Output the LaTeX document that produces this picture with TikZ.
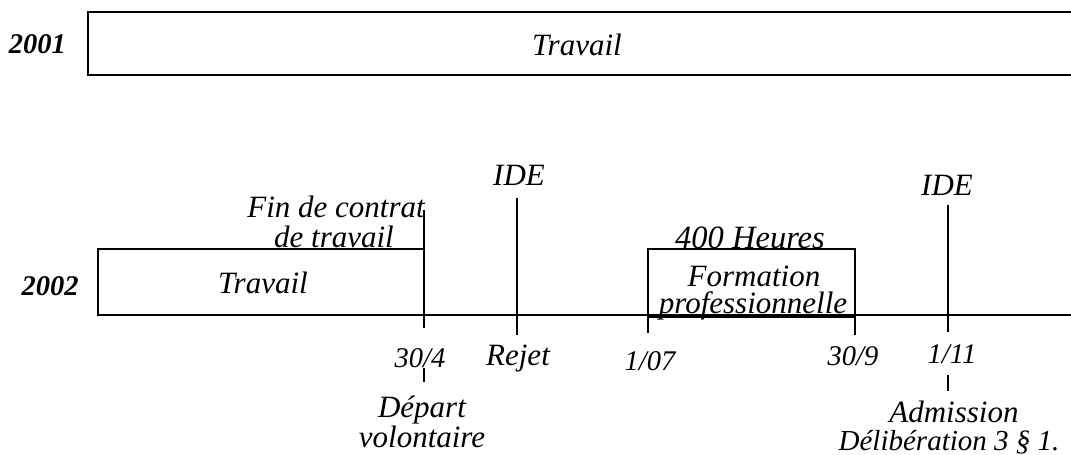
\documentclass[tikz,border=0pt]{standalone}
\usepackage{fontspec}
\setmainfont{Liberation Serif}
\begin{document}
\begin{tikzpicture}[x=1pt,y=-1pt,
  every node/.style={inner sep=0pt, outer sep=0pt, anchor=base,
    font=\fontsize{31}{33}\selectfont\itshape},
  num/.style={font=\fontsize{28.5}{30}\selectfont\itshape},
  year/.style={font=\fontsize{28.5}{30}\selectfont\bfseries\itshape},
  bar/.style={line width=1.6pt},
  mark line/.style={line width=1.6pt}]
\clip (0,0) rectangle (1071,455);
\fill[white] (0,0) rectangle (1071,455);

% 2001 row
\node[year] (y2001) at (37.5,53) {2001};
\draw[bar] (1080,12) -- (88,12) -- (88,75) -- (1080,75);
\node (work1) at (577,55) {Travail};

% 2002 row: timeline and boxes
\node[year] (y2002) at (50,295) {2002};
\coordinate (tl0) at (98,315);
\coordinate (tl1) at (1075,315);
\draw[bar] (tl0) -- (tl1);
\draw[bar] (98,249) rectangle (424,315);
\node (work2) at (263,293) {Travail};
\draw[bar] (648,249) rectangle (855,317);
\node[font=\fontsize{32.5}{34}\selectfont\itshape] (hours) at (750,248) {400 Heures};
\node (form1) at (754,286) {Formation};
\node (form2) at (753,313) {professionnelle};

% 30/4 : end of contract
\coordinate (a0) at (424,210);
\coordinate (a1) at (424,328);
\draw[mark line] (a0) -- (a1);
\node (fin1) at (336,217) {Fin de contrat};
\node (fin2) at (334,247) {de travail};
\node[num] (d304) at (420,367) {30/4};
\coordinate (a2) at (424,368);
\coordinate (a3) at (424,382);
\draw[mark line] (a2) -- (a3);
\node (dep1) at (422,417) {Départ};
\node (dep2) at (422,447) {volontaire};

% first IDE : rejection
\node (ide1) at (519,185) {IDE};
\coordinate (b0) at (517,198);
\coordinate (b1) at (517,335);
\draw[mark line] (b0) -- (b1);
\node (rej) at (518,365) {Rejet};

% training period ticks
\coordinate (c0) at (648,315);
\coordinate (c1) at (648,333);
\draw[mark line] (c0) -- (c1);
\node[num] (d107) at (650,370) {1/07};
\coordinate (e0) at (855,315);
\coordinate (e1) at (855,335);
\draw[mark line] (e0) -- (e1);
\node[num] (d309) at (853,365) {30/9};

% second IDE : admission
\node (ide2) at (947,195) {IDE};
\coordinate (f0) at (948,205);
\coordinate (f1) at (948,332);
\draw[mark line] (f0) -- (f1);
\node[num] (d111) at (952,363) {1/11};
\coordinate (f2) at (948,375);
\coordinate (f3) at (948,391);
\draw[mark line] (f2) -- (f3);
\node (adm1) at (954,422) {Admission};
\node[font=\fontsize{29}{31}\selectfont\itshape] (adm2) at (949,450) {Délibération 3 § 1.};
\end{tikzpicture}
\end{document}
